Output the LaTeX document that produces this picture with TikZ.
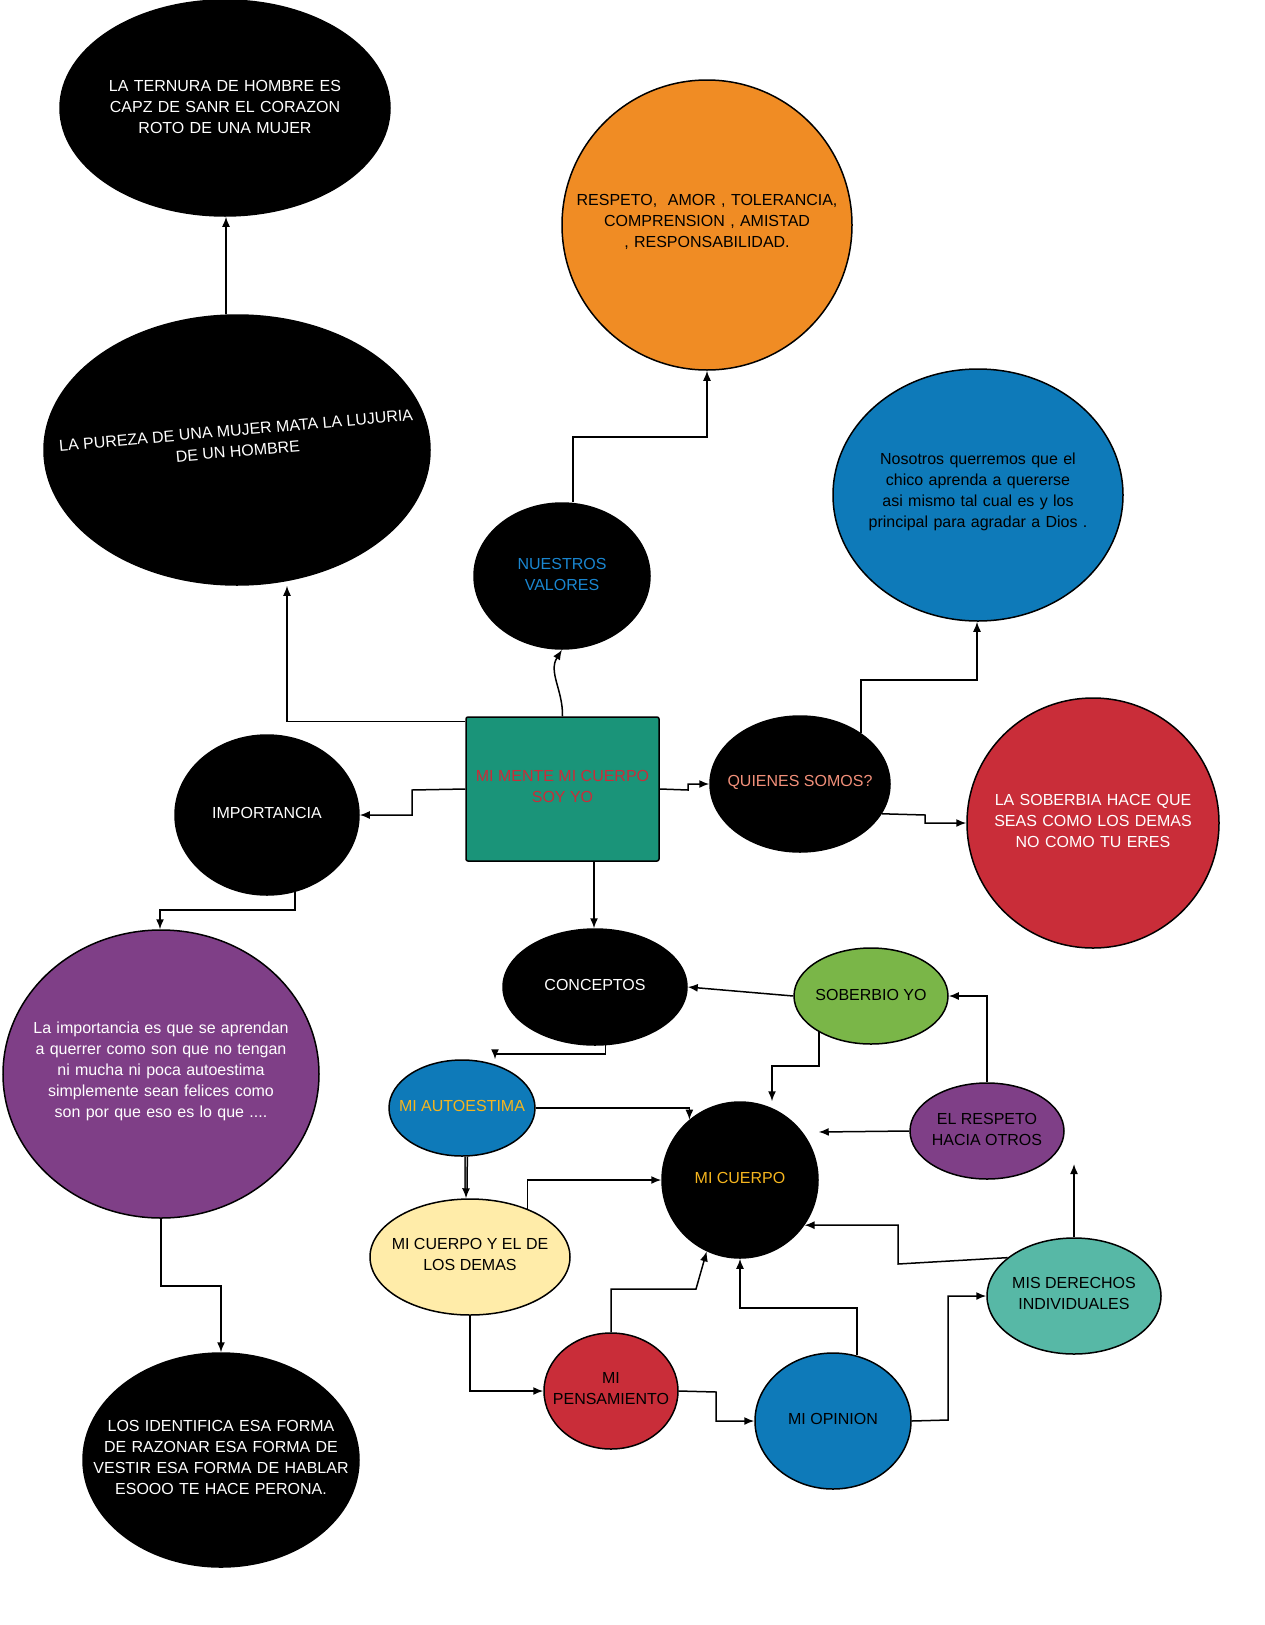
\documentclass[tikz,border=0pt]{standalone}
\usepackage{fontspec}
\setmainfont{Liberation Sans}
\usetikzlibrary{positioning, shapes.geometric, arrows.meta, calc}
\hyphenpenalty=10000
\exhyphenpenalty=10000
\definecolor{cteal}{HTML}{1A9479}
\definecolor{corange}{HTML}{F08C24}
\definecolor{cblue}{HTML}{0E7AB9}
\definecolor{cred}{HTML}{C92D39}
\definecolor{cpurple}{HTML}{7F3F87}
\definecolor{cgreen}{HTML}{7AB648}
\definecolor{cyellow}{HTML}{FFECA9}
\definecolor{cmint}{HTML}{57B8A6}
\definecolor{ctxtblue}{HTML}{1A86D0}
\definecolor{ctxtyel}{HTML}{F5B51E}
\definecolor{csalmon}{HTML}{F2907A}
\tikzset{
  bubble/.style={ellipse, draw=black, line width=1.5pt, inner sep=0pt},
  words/.style={align=center, inner sep=0pt, font=\fontsize{16}{21}\selectfont},
  link/.style={-{Latex[length=10pt,width=8pt]}, line width=1.5pt}
}
\begin{document}
\begin{tikzpicture}[x=1pt,y=-1pt]
      \useasboundingbox[fill=white] (0,0) rectangle (1265,1625);
      % burbujas
      \node[bubble, fill=black, minimum width=330, minimum height=216] (ternura) at (225,108) {};
      \node[bubble, fill=black, minimum width=386, minimum height=270] (pureza) at (237,450) {};
      \node[bubble, fill=corange, minimum width=290, minimum height=290] (valores) at (707,225) {};
      \node[bubble, fill=black, minimum width=176, minimum height=146] (nuestros) at (562,576) {};
      \node[bubble, fill=cblue, minimum width=290, minimum height=252] (nosotros) at (978,495) {};
      \node[draw=black, line width=1.5pt, rounded corners=2pt, fill=cteal, minimum width=193, minimum height=144] (mente) at (562.5,789) {};
      \node[bubble, fill=black, minimum width=184, minimum height=160] (importancia) at (267,815) {};
      \node[bubble, fill=black, minimum width=180, minimum height=136] (quienes) at (800,784) {};
      \node[bubble, fill=cred, minimum width=252, minimum height=250] (soberbia) at (1093,823) {};
      \node[bubble, fill=black, minimum width=184, minimum height=116] (conceptos) at (595,987) {};
      \node[bubble, fill=cpurple, minimum width=316, minimum height=288] (purpura) at (161,1074) {};
      \node[bubble, fill=cgreen, minimum width=154, minimum height=96] (soberbio) at (871,996) {};
      \node[bubble, fill=cblue, minimum width=146, minimum height=96] (autoestima) at (462,1108) {};
      \node[bubble, fill=black, minimum width=156, minimum height=156] (cuerpo) at (740,1180) {};
      \node[bubble, fill=cpurple, minimum width=154, minimum height=96] (respeto) at (987,1131) {};
      \node[bubble, fill=cyellow, minimum width=200, minimum height=116] (demas) at (470,1257) {};
      \node[bubble, fill=cmint, minimum width=174, minimum height=116] (derechos) at (1074,1296) {};
      \node[bubble, fill=cred, minimum width=134, minimum height=116] (pensamiento) at (611,1391) {};
      \node[bubble, fill=cblue, minimum width=156, minimum height=136] (opinion) at (833,1421) {};
      \node[bubble, fill=black, minimum width=276, minimum height=214] (identifica) at (221,1460) {};
      % textos
      \node[words, text=white, text width=320] (ternura-t) at (225,107) {LA TERNURA DE HOMBRE ES CAPZ DE SANR EL CORAZON ROTO DE UNA MUJER};
      \node[words, text=white, rotate=5] (pureza-t) at (237,441) {LA PUREZA DE UNA MUJER MATA LA LUJURIA\\DE UN HOMBRE};
      \node[words, text width=290] (valores-t) at (707,222) {RESPETO,\ \ AMOR , TOLERANCIA, COMPRENSION , AMISTAD , RESPONSABILIDAD.};
      \node[words, text=ctxtblue] (nuestros-t) at (562,574) {NUESTROS\\VALORES};
      \node[words, text width=270] (nosotros-t) at (978,492) {Nosotros querremos que el chico aprenda a quererse asi mismo tal cual es y los principal para agradar a Dios .};
      \node[words, text=cred] (mente-t) at (562.5,786) {MI MENTE MI CUERPO\\SOY YO};
      \node[words, text=white] (importancia-t) at (267,813) {IMPORTANCIA};
      \node[words, text=csalmon] (quienes-t) at (800,782) {QUIENES SOMOS?};
      \node[words, text=white, text width=230] (soberbia-t) at (1093,821) {LA SOBERBIA HACE QUE SEAS COMO LOS DEMAS NO COMO TU ERES};
      \node[words, text=white] (conceptos-t) at (595,985) {CONCEPTOS};
      \node[words, text=white, text width=306] (purpura-t) at (161,1071) {La importancia es que se aprendan a querrer como son que no tengan ni mucha ni poca autoestima simplemente sean felices como son por que eso es lo que ....};
      \node[words] (soberbio-t) at (871,995) {SOBERBIO YO};
      \node[words, text=ctxtyel] (autoestima-t) at (462,1106) {MI AUTOESTIMA};
      \node[words, text=ctxtyel] (cuerpo-t) at (740,1178) {MI CUERPO};
      \node[words] (respeto-t) at (987,1129) {EL RESPETO\\HACIA OTROS};
      \node[words] (demas-t) at (470,1254) {MI CUERPO Y EL DE\\LOS DEMAS};
      \node[words] (derechos-t) at (1074,1293) {MIS DERECHOS\\INDIVIDUALES};
      \node[words] (pensamiento-t) at (611,1389) {MI\\PENSAMIENTO};
      \node[words] (opinion-t) at (833,1419) {MI OPINION};
      \node[words, text=white, text width=256] (identifica-t) at (221,1457) {LOS IDENTIFICA ESA FORMA DE RAZONAR ESA FORMA DE VESTIR ESA FORMA DE HABLAR ESOOO TE HACE PERONA.};
      % conectores
      \draw[link] ($(mente.north west)+(0,5)$) -| (pureza.south -| 287,0);
      \draw[link] (pureza.north -| 226,0) -- (ternura.south -| 226,0);
      \draw[link] (mente.north) .. controls (563,690) and (548,672) .. (nuestros.south);
      \draw[link] ($(nuestros.north)+(11,0)$) |- (707,437) -- (valores.south);
      \draw[link] (mente.west) -- (412,790) |- (importancia.east);
      \draw[link] (mente.east) -- (688,790) |- (quienes.west);
      \draw[link] (quienes.40) |- (977,680) -- (nosotros.south -| 977,0);
      \draw[link] (quienes.-20) -- (925,815) |- (soberbia.west);
      \draw[link] (mente.south -| 594,0) -- (conceptos.north -| 594,0);
      \draw[link] (importancia.-70) |- (160,910) -- (purpura.north -| 160,0);
      \draw[link] (purpura.south) |- (221,1286) -- (identifica.north);
      \draw[link] (conceptos.-80) |- (495,1054) -- ($(autoestima.north)+(33,0)$);
      \draw[link] (soberbio.west) -- (conceptos.east);
      \draw[link] (soberbio.-145) |- (772,1066) -- (cuerpo.north -| 772,0);
      \draw[link] (autoestima.east) -| (cuerpo.130);
      \draw[link, double] (autoestima.-85) -- (demas.north -| 466,0);
      \draw[link] (respeto.west) -- (cuerpo.east |- 0,1132);
      \draw[link] (respeto.north) |- (soberbio.east);
      \draw[link] (demas.40) |- (cuerpo.west);
      \draw[link] (demas.south) |- (pensamiento.west);
      \draw[link] (pensamiento.north) |- (696,1289) -- (cuerpo.-115);
      \draw[link] (pensamiento.east) -- (716,1392) |- (opinion.west);
      \draw[link] (opinion.70) |- (740,1308) -- (cuerpo.south);
      \draw[link] (opinion.east) -- (948,1420) |- (derechos.west);
      \draw[link] (derechos.150) -- (898,1264) |- (cuerpo.-35);
      \draw[link] (derechos.north) -- (respeto.-30 -| 1074,0);
    \end{tikzpicture}
\end{document}
